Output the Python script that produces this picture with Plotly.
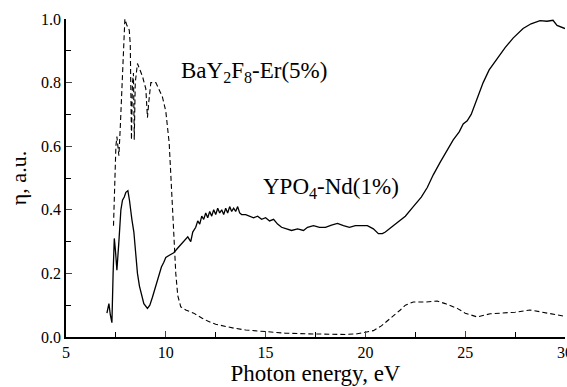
import plotly.graph_objects as go

# BaY2F8-Er(5%) (dashed)
ba_x = [7.38, 7.45, 7.5, 7.55, 7.6, 7.65, 7.72, 7.8, 7.88, 7.95, 8.05, 8.17, 8.22, 8.28, 8.33, 8.38, 8.42, 8.47,
        8.58, 8.7, 8.83, 9.0, 9.08, 9.15, 9.25, 9.5, 9.65, 9.83, 10.0, 10.17, 10.3, 10.4, 10.5, 10.6,
        10.75, 11.0, 11.4, 11.8, 12.1, 12.5, 13.0, 13.4, 14.0, 15.0, 16.0, 17.0, 18.0, 19.0, 19.6, 20.0,
        20.4, 20.8, 21.2, 21.75, 22.0, 22.4, 23.0, 23.6, 24.0, 24.6, 25.0, 25.6, 26.25, 27.0, 27.5, 28.25,
        29.0, 29.5, 30.0]
ba_y = [0.35, 0.55, 0.60, 0.63, 0.59, 0.57, 0.66, 0.80, 0.93, 1.0, 0.98, 0.965, 0.92, 0.62, 0.80, 0.83, 0.62, 0.80,
        0.86, 0.84, 0.82, 0.78, 0.69, 0.74, 0.80, 0.80, 0.78, 0.755, 0.71, 0.61, 0.45, 0.32, 0.20, 0.13,
        0.095, 0.085, 0.075, 0.06, 0.05, 0.04, 0.032, 0.028, 0.022, 0.016, 0.012, 0.01, 0.008, 0.008, 0.01, 0.015,
        0.02, 0.035, 0.055, 0.085, 0.10, 0.11, 0.11, 0.113, 0.105, 0.09, 0.075, 0.063, 0.073, 0.077, 0.078, 0.085,
        0.077, 0.07, 0.065]

# YPO4-Nd(1%) (solid)
yp_x = [7.05, 7.15, 7.22, 7.3, 7.36, 7.42, 7.48, 7.55, 7.65, 7.75, 7.83, 7.92, 8.0, 8.1, 8.18, 8.25, 8.3, 8.4,
        8.5, 8.58, 8.68, 8.75, 8.9, 9.08, 9.2, 9.33, 9.45, 9.58, 9.7, 9.78, 9.9, 10.0, 10.2, 10.4, 10.6, 10.9,
        11.1, 11.25, 11.35, 11.5, 11.6, 11.7, 11.8, 11.9, 12.0, 12.1, 12.2, 12.3, 12.4, 12.5, 12.6, 12.7, 12.8,
        12.9, 13.0, 13.1, 13.2, 13.3, 13.4, 13.5, 13.6, 13.7, 13.8, 14.0, 14.2, 14.4, 14.6, 14.8, 15.0, 15.2,
        15.4, 15.6, 15.8, 16.0, 16.3, 16.6, 16.9, 17.1, 17.4, 17.7, 18.0, 18.3, 18.6, 18.9, 19.2, 19.5, 19.8,
        20.1, 20.4, 20.65, 20.85, 21.0, 21.3, 21.6, 22.0, 22.4, 22.8, 23.1, 23.4, 23.75, 24.1, 24.4, 24.7,
        24.9, 25.1, 25.3, 25.6, 25.9, 26.2, 26.6, 27.0, 27.4, 27.9, 28.3, 28.75, 29.1, 29.4, 29.6, 29.85, 30.0]
yp_y = [0.075, 0.105, 0.07, 0.045, 0.2, 0.31, 0.27, 0.21, 0.3, 0.40, 0.43, 0.44, 0.455, 0.46, 0.43, 0.39, 0.37,
        0.33, 0.26, 0.20, 0.16, 0.14, 0.105, 0.09, 0.10, 0.125, 0.15, 0.18, 0.205, 0.22, 0.235, 0.25, 0.258,
        0.265, 0.28, 0.30, 0.315, 0.30, 0.33, 0.345, 0.365, 0.355, 0.38, 0.37, 0.39, 0.375, 0.395, 0.38, 0.40,
        0.385, 0.405, 0.39, 0.40, 0.385, 0.405, 0.39, 0.41, 0.395, 0.405, 0.395, 0.41, 0.39, 0.385, 0.385, 0.38,
        0.375, 0.38, 0.37, 0.375, 0.365, 0.37, 0.355, 0.345, 0.34, 0.335, 0.34, 0.335, 0.345, 0.35, 0.345,
        0.345, 0.352, 0.357, 0.35, 0.345, 0.35, 0.35, 0.35, 0.34, 0.325, 0.325, 0.33, 0.345, 0.36, 0.38, 0.41,
        0.44, 0.47, 0.51, 0.55, 0.59, 0.62, 0.645, 0.67, 0.68, 0.70, 0.75, 0.80, 0.84, 0.875, 0.91, 0.94, 0.97,
        0.985, 0.995, 0.993, 0.996, 0.98, 0.975, 0.97]

x_tickvals = [5, 10, 15, 20, 25, 30]
y_tickvals = [0.0, 0.2, 0.4, 0.6, 0.8, 1.0]
y_ticktext = ["0.0", "0.2", "0.4", "0.6", "0.8", "1.0"]

FONT = "Liberation Serif"

fig = go.Figure()
fig.add_trace(go.Scatter(x=ba_x, y=ba_y, mode="lines",
                         line=dict(color="black", width=1.1, dash="5px,3px"), showlegend=False))
fig.add_trace(go.Scatter(x=yp_x, y=yp_y, mode="lines",
                         line=dict(color="black", width=1.3), showlegend=False))

fig.add_annotation(x=10.65, y=0.833, xref="x", yref="y", xanchor="left", yanchor="middle",
                   text="BaY<sub>2</sub>F<sub>8</sub>-Er(5%)", showarrow=False,
                   font=dict(family=FONT, size=23, color="black"))
fig.add_annotation(x=14.75, y=0.47, xref="x", yref="y", xanchor="left", yanchor="middle",
                   text="YPO<sub>4</sub>-Nd(1%)", showarrow=False,
                   font=dict(family=FONT, size=23, color="black"))

fig.update_layout(
    width=567, height=387,
    margin=dict(l=66, r=2, t=19, b=50),
    paper_bgcolor="white", plot_bgcolor="white",
    font=dict(family=FONT, color="black"),
    xaxis=dict(range=[5, 30], tickvals=x_tickvals, ticks="inside", ticklen=6, tickwidth=1.2,
               showline=True, linecolor="black", linewidth=1.5, showgrid=False, zeroline=False,
               tickfont=dict(family=FONT, size=16), automargin=False, ticklabeloverflow="allow",
               minor=dict(ticks="inside", dtick=2.5, tick0=5, ticklen=5, tickwidth=1.2, tickcolor="black"),
               title=dict(text="Photon energy, eV", font=dict(family=FONT, size=23), standoff=2)),
    yaxis=dict(range=[0, 1.0], tickvals=y_tickvals, ticktext=y_ticktext, ticks="inside", ticklen=6,
               tickwidth=1.2, showline=True, linecolor="black", linewidth=1.5, showgrid=False,
               zeroline=False, tickfont=dict(family=FONT, size=16), automargin=False,
               minor=dict(ticks="inside", dtick=0.1, tick0=0, ticklen=5, tickwidth=1.2, tickcolor="black"),
               title=dict(text="η, a.u.", font=dict(family=FONT, size=22), standoff=8)),
)

fig.write_html("out.html", config={"displayModeBar": False},
               post_script="document.body.style.margin='0';")
